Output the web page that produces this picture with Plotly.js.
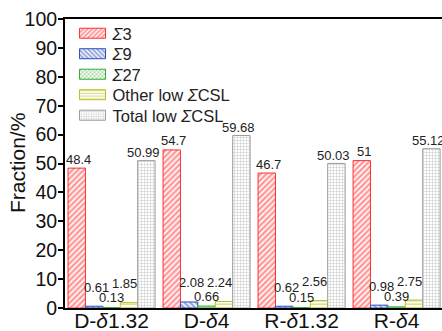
<!DOCTYPE html>
<html>
<head>
<meta charset="utf-8">
<script src="https://cdn.plot.ly/plotly-3.0.1.min.js"></script>
<style>html,body{margin:0;padding:0;overflow:hidden;background:#fff}</style>
</head>
<body>
<div id="chart" style="width:442px;height:331px"></div>
<script>
const categories = ['D-<i>δ</i>1.32', 'D-<i>δ</i>4', 'R-<i>δ</i>1.32', 'R-<i>δ</i>4'];
const seriesNames = ['<i>Σ</i>3', '<i>Σ</i>9', '<i>Σ</i>27', 'Other low <i>Σ</i>CSL', 'Total low <i>Σ</i>CSL'];
const sigma3 = [48.4, 54.7, 46.7, 51];
const sigma9 = [0.61, 2.08, 0.62, 0.98];
const sigma27 = [0.13, 0.66, 0.15, 0.39];
const otherLow = [1.85, 2.24, 2.56, 2.75];
const totalLow = [50.99, 59.68, 50.03, 55.12];
const labelText = [
  ['48.4', '54.7', '46.7', '51'],
  ['0.61', '2.08', '0.62', '0.98'],
  ['0.13', '0.66', '0.15', '0.39'],
  ['1.85', '2.24', '2.56', '2.75'],
  ['50.99', '59.68', '50.03', '55.12']
];
const yTitle = 'Fraction/%';

const allSeries = [sigma3, sigma9, sigma27, otherLow, totalLow];
const colors = ['#ff3030', '#2a4fbd', '#33aa2e', '#bcbc22', '#9c9c9c'];
const shapes = ['/', '\\', 'x', '-', '+'];
const psizes = [4, 4, 3.5, 3.5, 3];
const solid = [0.6, 0.6, 0.5, 0.45, 0.35];
const yshifts = [9, 19, 10, 19, 8];
const xshifts = [2, 2, 0, -4, -3];
const bargap = 0.084;
const barW = (1 - bargap) / 5;
const font = 'Arial, "Liberation Sans", sans-serif';

const traces = allSeries.map((vals, k) => ({
  type: 'bar',
  name: seriesNames[k],
  x: categories,
  y: vals,
  marker: {
    color: '#ffffff',
    line: {color: colors[k], width: 1},
    pattern: {shape: shapes[k], fgcolor: colors[k], bgcolor: '#ffffff', size: psizes[k], solidity: solid[k], fillmode: 'overlay'}
  },
  hoverinfo: 'skip'
}));

const annotations = [];
allSeries.forEach((vals, k) => {
  vals.forEach((v, i) => {
    annotations.push({
      x: i + (k - 2) * barW, y: v, xref: 'x', yref: 'y',
      text: labelText[k][i], showarrow: false,
      yanchor: 'middle', yshift: yshifts[k], xshift: xshifts[k],
      font: {family: font, size: 13, color: '#222'}
    });
  });
});
annotations.push({
  xref: 'paper', yref: 'paper', x: -(65 - 17.5) / 377, y: 0.5,
  xanchor: 'center', yanchor: 'middle', textangle: -90, showarrow: false,
  text: yTitle, font: {family: font, size: 21, color: '#111'}
});

const layout = {
  width: 442, height: 331,
  margin: {l: 65, r: 0, t: 19, b: 23, pad: 0},
  paper_bgcolor: '#fff', plot_bgcolor: '#fff',
  barmode: 'group', bargap: bargap, bargroupgap: 0,
  showlegend: true,
  legend: {x: 0.02, y: 1.0, xanchor: 'left', yanchor: 'top', bgcolor: 'rgba(0,0,0,0)',
           font: {family: font, size: 16.5, color: '#222'}, traceorder: 'normal', tracegroupgap: 0},
  xaxis: {
    type: 'category', range: [-0.49, 3.478],
    showline: true, linecolor: '#000', linewidth: 2, mirror: true,
    ticks: '', showgrid: false, zeroline: false, ticklabelstandoff: -7,
    tickfont: {family: font, size: 21, color: '#111'}
  },
  yaxis: {
    range: [0, 100], dtick: 10, tick0: 0,
    showline: true, linecolor: '#000', linewidth: 2, mirror: false,
    ticks: 'outside', ticklen: 5, tickwidth: 2, tickcolor: '#000',
    showgrid: false, zeroline: false, ticklabelstandoff: -3,
    tickfont: {family: font, size: 19.5, color: '#111'}
  },
  annotations: annotations,
  font: {family: font}
};

function fixLegend() {
  document.querySelectorAll('.legend .legendpoints path').forEach(p => {
    p.setAttribute('d', 'M13,5H-13V-5H13Z');
  });
  const items = Array.from(document.querySelectorAll('.legend .traces'));
  if (!items.length || items[0].dataset.fixed) return;
  const re = /translate\(\s*([-\d.]+)[ ,]+([-\d.]+)\s*\)/;
  const pos = items.map(g => re.exec(g.getAttribute('transform') || ''));
  if (!pos[0]) return;
  const y0 = parseFloat(pos[0][2]) - 3;
  items.forEach((g, i) => {
    const x0 = pos[i] ? parseFloat(pos[i][1]) : 0;
    g.setAttribute('transform', 'translate(' + x0 + ',' + (y0 + i * 20.5) + ')');
    g.dataset.fixed = '1';
  });
}

Plotly.newPlot('chart', traces, layout, {displayModeBar: false, staticPlot: true}).then(() => {
  fixLegend();
});
</script>
</body>
</html>
